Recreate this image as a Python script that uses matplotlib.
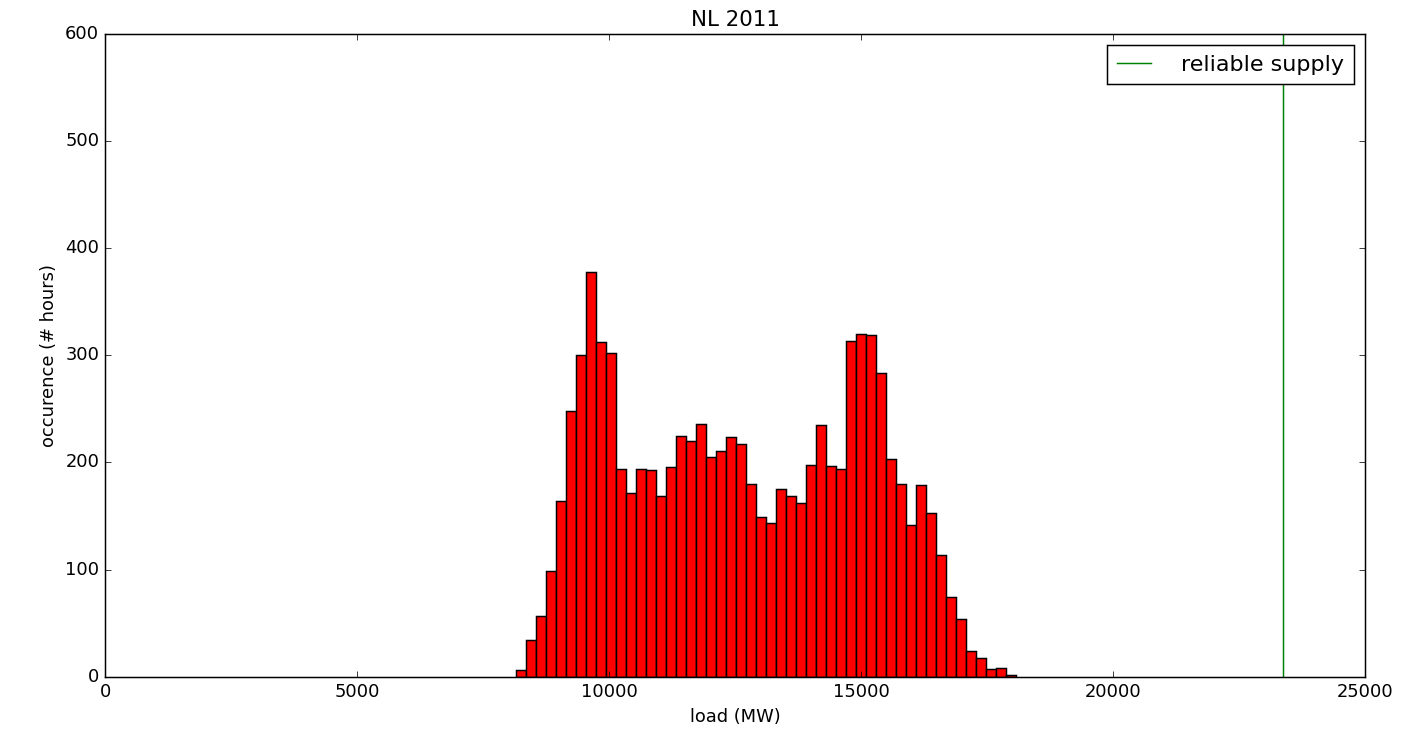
import numpy as np
import matplotlib
matplotlib.use("Agg")
import matplotlib.pyplot as plt

# ---- data ----
title = "NL 2011"
load_min = 8155.0      # MW, left edge of first bin
load_max = 18063.0     # MW, right edge of last bin
counts = [6, 34, 57, 99, 164, 248, 300, 378, 312, 302,
          194, 171, 194, 193, 169, 196, 225, 220, 236, 205,
          211, 224, 217, 180, 149, 143, 175, 169, 162, 198,
          235, 197, 194, 313, 320, 319, 283, 203, 180, 142,
          179, 153, 114, 74, 54, 24, 17, 7, 8, 2]
reliable_supply = 23373.0  # MW
x_ticks = [0, 5000, 10000, 15000, 20000, 25000]
y_ticks = [0, 100, 200, 300, 400, 500, 600]

plt.style.use("classic")
plt.rcParams["font.family"] = ["DejaVu Sans"]

DPI = 107
fig = plt.figure(figsize=(1407 / DPI, 738 / DPI), dpi=DPI, facecolor="white")
ax = fig.add_axes([0.0748, 0.0831, 0.9704 - 0.0748, 0.9543 - 0.0831])

edges = np.linspace(load_min, load_max, len(counts) + 1)
ax.bar(edges[:-1], counts, width=np.diff(edges), align="edge",
       color="red", edgecolor="black", linewidth=1.0)
ax.axvline(reliable_supply, color=(0, 0.5, 0), linewidth=1.0, label="reliable supply")

ax.set_xlim(0, 25000)
ax.set_ylim(0, 600)
ax.set_xticks(x_ticks)
ax.set_yticks(y_ticks)
ax.tick_params(labelsize=12)
ax.set_xlabel("load (MW)", fontsize=12)
ax.set_ylabel("occurence (# hours)", fontsize=12)
ax.set_title(title, fontsize=14.4)
ax.legend(loc="upper right", fontsize=15, numpoints=1, borderpad=0.44,
          handlelength=1.55, handletextpad=1.35, borderaxespad=0.5)

fig.savefig("out.png", dpi=DPI, facecolor="white")
